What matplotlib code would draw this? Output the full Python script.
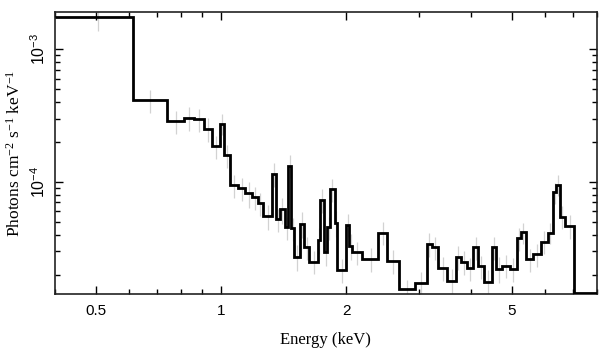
import matplotlib
matplotlib.use("Agg")
import matplotlib.pyplot as plt
import numpy as np
from matplotlib.ticker import FixedLocator, NullFormatter, FixedFormatter

# ---- data ----
edges = [0.40, 0.613, 0.740, 0.816, 0.861, 0.912, 0.953, 0.996, 1.018, 1.053,
         1.100, 1.144, 1.187, 1.224, 1.264, 1.324, 1.356, 1.386, 1.425, 1.451,
         1.475, 1.500, 1.548, 1.586, 1.630, 1.708, 1.730, 1.768, 1.801, 1.828,
         1.879, 1.903, 2.001, 2.034, 2.065, 2.188, 2.388, 2.502, 2.684, 2.927,
         3.123, 3.212, 3.330, 3.500, 3.666, 3.775, 3.909, 4.041, 4.154, 4.295,
         4.482, 4.582, 4.729, 4.952, 5.139, 5.254, 5.410, 5.633, 5.879, 6.094,
         6.293, 6.388, 6.513, 6.725, 7.069, 8.2]

flux = [1.761e-3, 4.13e-4, 2.87e-4, 3.05e-4, 2.97e-4, 2.51e-4, 1.85e-4, 2.75e-4, 1.59e-4, 9.44e-5,
        8.97e-5, 8.22e-5, 7.67e-5, 6.91e-5, 5.54e-5, 1.149e-4, 5.24e-5, 6.23e-5, 4.56e-5, 1.327e-4,
        4.48e-5, 2.74e-5, 4.83e-5, 3.22e-5, 2.51e-5, 3.66e-5, 7.32e-5, 2.98e-5, 4.56e-5, 8.81e-5,
        4.93e-5, 2.17e-5, 4.77e-5, 3.31e-5, 2.95e-5, 2.63e-5, 4.15e-5, 2.55e-5, 1.554e-5, 1.733e-5,
        3.41e-5, 3.21e-5, 2.25e-5, 1.795e-5, 2.72e-5, 2.50e-5, 2.24e-5, 3.21e-5, 2.31e-5, 1.773e-5,
        3.22e-5, 2.22e-5, 2.34e-5, 2.22e-5, 3.77e-5, 4.18e-5, 2.62e-5, 2.85e-5, 3.55e-5, 4.15e-5,
        8.36e-5, 9.49e-5, 5.48e-5, 4.66e-5, 1.45e-5]

rel_err = [0.22, 0.20, 0.20, 0.20, 0.20, 0.20, 0.20, 0.18, 0.20, 0.20,
           0.20, 0.22, 0.20, 0.20, 0.22, 0.20, 0.20, 0.22, 0.20, 0.20,
           0.20, 0.22, 0.22, 0.20, 0.20, 0.22, 0.20, 0.22, 0.20, 0.20,
           0.22, 0.20, 0.20, 0.22, 0.20, 0.20, 0.20, 0.20, 0.18, 0.20,
           0.20, 0.20, 0.20, 0.22, 0.20, 0.20, 0.20, 0.20, 0.20, 0.22,
           0.20, 0.22, 0.20, 0.20, 0.20, 0.18, 0.20, 0.20, 0.20, 0.18,
           0.18, 0.18, 0.20, 0.20, 0.0]

x_major = [0.5, 1, 2, 5]
x_major_labels = ["0.5", "1", "2", "5"]
x_minor = [0.4, 0.6, 0.7, 0.8, 0.9, 3, 4, 6, 7, 8]
y_major = [1e-4, 1e-3]
y_major_labels = [r"$\mathregular{10^{-4}}$", r"$\mathregular{10^{-3}}$"]

# ---- plot ----
fig = plt.figure(figsize=(6.09, 3.57), dpi=100)
ax = fig.add_axes([0.0903, 0.1765, 0.8895, 0.7891])

e = np.array(edges)
f = np.array(flux)
centers = (e[:-1] + e[1:]) / 2
err = f * np.array(rel_err)
mask = np.array(rel_err) > 0
ax.errorbar(centers[mask], f[mask], yerr=err[mask], fmt="none",
            ecolor="#d2d2d2", elinewidth=0.9, capsize=0, zorder=1)
ax.stairs(f, e, color="black", linewidth=2.0, baseline=None, zorder=3)

ax.set_xscale("log")
ax.set_yscale("log")
ax.set_xlim(0.399, 8.0)
ax.set_ylim(1.43e-5, 1.90e-3)

ax.xaxis.set_major_locator(FixedLocator(x_major))
ax.xaxis.set_major_formatter(FixedFormatter(x_major_labels))
ax.xaxis.set_minor_locator(FixedLocator(x_minor))
ax.xaxis.set_minor_formatter(NullFormatter())
ax.yaxis.set_major_locator(FixedLocator(y_major))
ax.yaxis.set_major_formatter(FixedFormatter(y_major_labels))
ax.yaxis.set_minor_locator(FixedLocator(
    [k * 1e-5 for k in range(2, 10)] + [k * 1e-4 for k in range(2, 10)]))
ax.yaxis.set_minor_formatter(NullFormatter())

ax.tick_params(which="both", direction="in", top=True, right=True,
               width=1.0, color="black")
ax.tick_params(which="major", length=5.5)
ax.tick_params(which="minor", length=3.5)
ax.tick_params(axis="x", labelsize=11, pad=7)
ax.tick_params(axis="y", labelsize=11.5, pad=5)
for lab in ax.get_xticklabels() + ax.get_yticklabels():
    lab.set_family("Liberation Sans")
for lab in ax.get_yticklabels():
    lab.set_rotation(90)
    lab.set_va("center")

for s in ax.spines.values():
    s.set_linewidth(1.2)
    s.set_color("#222222")

ax.set_xlabel("Energy (keV)", family="Liberation Serif", fontsize=12, labelpad=10)
ax.set_ylabel(r"Photons cm$\mathregular{^{-2}}$ s$\mathregular{^{-1}}$ keV$\mathregular{^{-1}}$",
              family="Liberation Serif", fontsize=12.5, labelpad=4)

fig.savefig("out.png", dpi=100)
